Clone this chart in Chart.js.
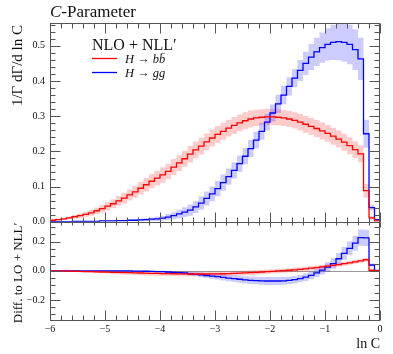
<!DOCTYPE html>
<html>
<head>
<meta charset="utf-8">
<script src="https://cdn.jsdelivr.net/npm/chart.js@4.4.1/dist/chart.umd.min.js"></script>
<style>
  body { margin: 0; background: #fff; }
  canvas { display: block; }
</style>
</head>
<body>
<canvas id="cparChart" width="393" height="354"></canvas>
<script>
// binning in ln C: 60 bins of 0.1 from -6 to 0
const binLow = -6;
const binWidth = 0.1;
const xTicks = [-6, -5, -4, -3, -2, -1, 0];

// 1/Gamma dGamma/d lnC, NLO+NLL'
const bbDist = [
    0.004, 0.006, 0.008, 0.011, 0.014, 0.017, 0.021, 0.025, 0.031, 0.037,
    0.044, 0.051, 0.059, 0.067, 0.076, 0.085, 0.095, 0.105, 0.115, 0.124,
    0.133, 0.143, 0.155, 0.167, 0.179, 0.192, 0.204, 0.215, 0.227, 0.238,
    0.248, 0.257, 0.266, 0.274, 0.281, 0.287, 0.292, 0.295, 0.297, 0.298,
    0.298, 0.297, 0.295, 0.292, 0.288, 0.283, 0.277, 0.271, 0.265, 0.258,
    0.251, 0.243, 0.235, 0.226, 0.216, 0.205, 0.193, 0.088, 0.011, 0.002
];
const bbDistErr = [
    0.002, 0.003, 0.003, 0.004, 0.005, 0.006, 0.007, 0.008, 0.009, 0.011,
    0.012, 0.013, 0.014, 0.015, 0.016, 0.017, 0.018, 0.019, 0.020, 0.021,
    0.022, 0.022, 0.023, 0.023, 0.023, 0.024, 0.024, 0.024, 0.024, 0.024,
    0.024, 0.024, 0.024, 0.024, 0.024, 0.024, 0.024, 0.023, 0.023, 0.023,
    0.023, 0.023, 0.023, 0.023, 0.023, 0.024, 0.024, 0.024, 0.024, 0.024,
    0.024, 0.024, 0.024, 0.024, 0.024, 0.024, 0.024, 0.020, 0.005, 0.001
];
const ggDist = [
    0.000, 0.000, 0.000, 0.000, 0.001, 0.001, 0.001, 0.001, 0.001, 0.002,
    0.002, 0.002, 0.003, 0.003, 0.004, 0.004, 0.005, 0.006, 0.007, 0.008,
    0.010, 0.013, 0.017, 0.022, 0.027, 0.033, 0.042, 0.053, 0.066, 0.079,
    0.094, 0.111, 0.128, 0.146, 0.165, 0.186, 0.208, 0.232, 0.257, 0.283,
    0.309, 0.335, 0.360, 0.385, 0.408, 0.430, 0.450, 0.468, 0.483, 0.495,
    0.504, 0.510, 0.512, 0.510, 0.504, 0.489, 0.463, 0.250, 0.040, 0.006
];
const ggDistErr = [
    0.000, 0.000, 0.000, 0.000, 0.001, 0.001, 0.001, 0.001, 0.001, 0.001,
    0.001, 0.001, 0.002, 0.002, 0.002, 0.003, 0.003, 0.004, 0.005, 0.006,
    0.007, 0.009, 0.010, 0.012, 0.014, 0.016, 0.017, 0.019, 0.020, 0.021,
    0.022, 0.023, 0.023, 0.023, 0.023, 0.023, 0.024, 0.024, 0.024, 0.024,
    0.024, 0.026, 0.026, 0.026, 0.026, 0.030, 0.033, 0.037, 0.040, 0.043,
    0.046, 0.050, 0.053, 0.055, 0.056, 0.058, 0.060, 0.040, 0.008, 0.002
];

// difference to LO+NLL'
const bbDiff = [
    0.000, 0.000, -0.001, -0.002, -0.003, -0.004, -0.005, -0.006, -0.007, -0.008,
    -0.009, -0.010, -0.011, -0.012, -0.013, -0.014, -0.015, -0.016, -0.017, -0.018,
    -0.019, -0.019, -0.020, -0.021, -0.021, -0.022, -0.022, -0.022, -0.022, -0.021,
    -0.021, -0.020, -0.019, -0.018, -0.016, -0.014, -0.012, -0.010, -0.008, -0.006,
    -0.004, -0.001, 0.001, 0.004, 0.007, 0.010, 0.014, 0.018, 0.022, 0.027,
    0.032, 0.037, 0.043, 0.049, 0.055, 0.062, 0.069, 0.076, 0.004, 0.001
];
const bbDiffErr = [
    0.000, 0.001, 0.002, 0.003, 0.004, 0.005, 0.006, 0.007, 0.008, 0.009,
    0.010, 0.011, 0.012, 0.013, 0.014, 0.015, 0.015, 0.016, 0.016, 0.016,
    0.016, 0.016, 0.016, 0.016, 0.016, 0.016, 0.016, 0.016, 0.016, 0.016,
    0.016, 0.016, 0.016, 0.016, 0.016, 0.016, 0.016, 0.016, 0.015, 0.015,
    0.015, 0.015, 0.015, 0.015, 0.015, 0.015, 0.015, 0.015, 0.015, 0.015,
    0.015, 0.015, 0.015, 0.014, 0.014, 0.014, 0.013, 0.012, 0.003, 0.001
];
const ggDiff = [
    0.000, 0.000, 0.000, 0.000, 0.000, 0.000, 0.000, 0.000, 0.000, 0.000,
    0.000, 0.000, 0.000, -0.001, -0.001, -0.002, -0.002, -0.003, -0.004, -0.005,
    -0.006, -0.008, -0.010, -0.012, -0.015, -0.020, -0.024, -0.028, -0.032, -0.036,
    -0.040, -0.045, -0.050, -0.054, -0.058, -0.062, -0.065, -0.067, -0.069, -0.070,
    -0.070, -0.070, -0.069, -0.066, -0.061, -0.054, -0.044, -0.031, -0.014, 0.005,
    0.026, 0.050, 0.083, 0.120, 0.155, 0.190, 0.228, 0.226, 0.040, 0.003
];
const ggDiffErr = [
    0.000, 0.000, 0.000, 0.000, 0.000, 0.000, 0.000, 0.000, 0.001, 0.001,
    0.001, 0.001, 0.002, 0.002, 0.002, 0.003, 0.003, 0.004, 0.004, 0.005,
    0.006, 0.007, 0.008, 0.010, 0.011, 0.013, 0.014, 0.016, 0.017, 0.019,
    0.020, 0.021, 0.022, 0.023, 0.024, 0.025, 0.026, 0.026, 0.027, 0.027,
    0.027, 0.027, 0.027, 0.027, 0.026, 0.025, 0.026, 0.027, 0.028, 0.030,
    0.033, 0.036, 0.040, 0.044, 0.048, 0.052, 0.056, 0.056, 0.010, 0.002
];

const red = '#ff0000';
const blue = '#0000ff';
const redBand = 'rgba(255, 0, 0, 0.2)';
const blueBand = 'rgba(0, 0, 255, 0.2)';
const frameColor = '#555';
const serif = "'Liberation Serif', serif";

// histogram as stepped points at the bin edges; last point closes the last bin
function steps(vals, errs, sign) {
    const pts = vals.map((v, i) => ({
        x: binLow + i * binWidth,
        y: errs ? v + sign * errs[i] : v
    }));
    pts.push({ x: binLow + vals.length * binWidth, y: pts[pts.length - 1].y });
    return pts;
}

function line(vals, color, axis) {
    return {
        data: steps(vals), yAxisID: axis, borderColor: color, borderWidth: 1.3,
        stepped: 'before', pointRadius: 0, fill: false, order: 0
    };
}

function band(vals, errs, color, axis, order) {
    return [
        { data: steps(vals, errs, 1), yAxisID: axis, borderWidth: 0, borderColor: 'transparent',
          backgroundColor: color, stepped: 'before', pointRadius: 0, fill: '+1', order: order },
        { data: steps(vals, errs, -1), yAxisID: axis, borderWidth: 0, borderColor: 'transparent',
          stepped: 'before', pointRadius: 0, fill: false, order: order }
    ];
}

function fmtTick(v) {
    const s = Math.abs(v).toFixed(1);
    return v < -1e-9 ? '\u2212' + s : s;
}

// inward ticks on every edge of both panels, plus frame and zero line
const frameTicks = {
    id: 'frameTicks',
    beforeDatasetsDraw(chart) {
        const { ctx, scales: { x, yd } } = chart;
        const y0 = Math.round(yd.getPixelForValue(0)) + 0.5;
        ctx.save();
        ctx.strokeStyle = '#999';
        ctx.lineWidth = 1;
        ctx.beginPath();
        ctx.moveTo(x.left, y0);
        ctx.lineTo(x.right, y0);
        ctx.stroke();
        ctx.restore();
    },
    afterDatasetsDraw(chart) {
        const { ctx, scales: { x, y, yd } } = chart;
        const L = Math.round(x.left) + 0.5;
        const R = Math.round(x.right) - 0.5;
        ctx.save();
        ctx.strokeStyle = frameColor;
        ctx.lineWidth = 1;
        ctx.beginPath();

        const xt = (yPix, dir, maj, min) => {
            for (let k = 0; k <= 30; k++) {
                const px = Math.round(x.getPixelForValue(binLow + k * 0.2)) + 0.5;
                const len = k % 5 === 0 ? maj : min;
                ctx.moveTo(px, yPix);
                ctx.lineTo(px, yPix + dir * len);
            }
        };
        const yt = (scale, from, to, step, every) => {
            for (let k = from; k <= to; k++) {
                const v = k * step;
                if (v < scale.min || v > scale.max) continue;
                const py = Math.round(scale.getPixelForValue(v)) + 0.5;
                const len = k % every === 0 ? 10 : 5;
                ctx.moveTo(L, py); ctx.lineTo(L + len, py);
                ctx.moveTo(R, py); ctx.lineTo(R - len, py);
            }
        };

        const topT = Math.round(y.top) + 0.5;
        const mid = Math.round(y.bottom) + 0.5;
        const bot = Math.round(yd.bottom) - 0.5;
        xt(topT, 1, 10, 5);
        xt(mid, -1, 10, 5);
        xt(mid, 1, 5, 3);
        xt(bot, -1, 10, 5);
        yt(y, 0, 28, 0.02, 5);
        yt(yd, -6, 6, 0.05, 4);
        ctx.stroke();

        ctx.strokeRect(L, topT, R - L, mid - topT);
        ctx.strokeRect(L, mid, R - L, bot - mid);
        ctx.restore();
    },
    afterDraw(chart) {
        const { ctx, scales: { x, y, yd } } = chart;
        ctx.save();
        ctx.fillStyle = '#111';
        ctx.textBaseline = 'alphabetic';

        // title
        ctx.font = 'italic 17px ' + serif;
        ctx.fillText('C', x.left, 17);
        const cw = ctx.measureText('C').width;
        ctx.font = '17px ' + serif;
        ctx.fillText('-Parameter', x.left + cw, 17);

        // axis titles
        ctx.font = '14px ' + serif;
        ctx.textAlign = 'right';
        ctx.fillText('ln C', x.right, 348);
        ctx.save();
        ctx.translate(22, y.top + 2);
        ctx.rotate(-Math.PI / 2);
        ctx.font = '15px ' + serif;
        ctx.fillText('1/\u0393 d\u0393/d ln C', 0, 0);
        ctx.restore();
        ctx.save();
        ctx.translate(22, yd.top + 1);
        ctx.rotate(-Math.PI / 2);
        ctx.font = '13px ' + serif;
        ctx.fillText('Diff. to LO + NLL\u2032', 0, 0);
        ctx.restore();

        // legend
        ctx.textAlign = 'left';
        ctx.font = '16px ' + serif;
        ctx.fillText('NLO + NLL\u2032', 92, 50);
        ctx.lineWidth = 1.3;
        ctx.strokeStyle = red;
        ctx.beginPath(); ctx.moveTo(92, 58.5); ctx.lineTo(117, 58.5); ctx.stroke();
        ctx.strokeStyle = blue;
        ctx.beginPath(); ctx.moveTo(92, 72.5); ctx.lineTo(117, 72.5); ctx.stroke();
        ctx.font = 'italic 12.5px ' + serif;
        ctx.fillText('H \u2192 bb\u0304', 125, 63);
        ctx.fillText('H \u2192 gg', 125, 77);
        ctx.restore();
    }
};

const noGrid = { display: false, drawTicks: false };

const cparConfig = {
    type: 'line',
    data: {
        datasets: [
            line(bbDist, red, 'y'),
            line(ggDist, blue, 'y'),
            line(bbDiff, red, 'yd'),
            line(ggDiff, blue, 'yd'),
            ...band(bbDist, bbDistErr, redBand, 'y', 2),
            ...band(ggDist, ggDistErr, blueBand, 'y', 1),
            ...band(bbDiff, bbDiffErr, redBand, 'yd', 2),
            ...band(ggDiff, ggDiffErr, blueBand, 'yd', 1)
        ]
    },
    options: {
        responsive: false,
        animation: false,
        devicePixelRatio: 1,
        layout: { padding: { top: 23, right: 13, left: 0, bottom: 0 } },
        plugins: {
            legend: { display: false },
            tooltip: { enabled: false }
        },
        scales: {
            x: {
                type: 'linear',
                min: xTicks[0],
                max: xTicks[xTicks.length - 1],
                grid: noGrid,
                border: { display: false },
                ticks: {
                    stepSize: 1, maxRotation: 0, padding: 2, color: '#111',
                    font: { family: serif, size: 10 },
                    callback: v => (v < 0 ? '\u2212' + Math.abs(v) : '' + v)
                },
                afterFit: s => { s.height = 33; }
            },
            yd: {
                type: 'linear',
                position: 'left',
                stack: 'panels',
                stackWeight: 1,
                min: -0.345,
                max: 0.338,
                grid: noGrid,
                border: { display: false },
                ticks: {
                    stepSize: 0.2, includeBounds: false, padding: 5, color: '#111',
                    font: { family: serif, size: 10 }, callback: fmtTick
                },
                afterFit: s => { s.width = 50; }
            },
            y: {
                type: 'linear',
                position: 'left',
                stack: 'panels',
                stackWeight: 2,
                min: 0,
                max: 0.565,
                grid: noGrid,
                border: { display: false },
                ticks: {
                    stepSize: 0.1, includeBounds: false, padding: 5, color: '#111',
                    font: { family: serif, size: 10 }, callback: fmtTick
                },
                afterFit: s => { s.width = 50; }
            }
        }
    },
    plugins: [frameTicks]
};

const cparCtx = document.getElementById('cparChart').getContext('2d');
new Chart(cparCtx, cparConfig);
</script>
</body>
</html>
